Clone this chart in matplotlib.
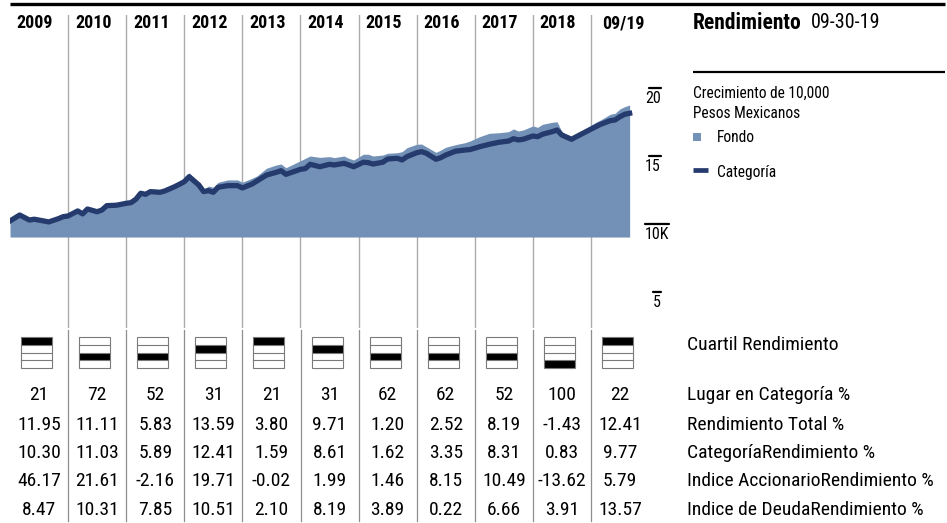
import matplotlib
matplotlib.use('Agg')
import matplotlib.pyplot as plt
from matplotlib.patches import Rectangle

plt.rcParams['font.family'] = ['Roboto Condensed', 'DejaVu Sans']
plt.rcParams['font.stretch'] = 'condensed'

# columnas (años)
anios = ['2009', '2010', '2011', '2012', '2013', '2014', '2015', '2016', '2017', '2018', '09/19']

# crecimiento de 10,000 (meses desde ene-2009)
meses = [0, 2, 4, 5, 7, 8, 10, 11, 12, 14, 15, 16, 18, 19, 20, 22, 24, 25, 26, 27,
         28, 29, 31, 32, 34, 35, 36, 37, 39, 40, 41, 42, 43, 45, 47, 48, 50, 51, 53, 55,
         56, 57, 60, 61, 62, 64, 66, 67, 69, 70, 71, 73, 74, 75, 77, 78, 80, 81, 82, 84,
         85, 86, 88, 89, 90, 92, 94, 95, 97, 99, 101, 103, 104, 105, 106, 108, 109, 110, 112, 113,
         114, 116, 117, 119, 121, 122, 124, 125, 126, 127, 128]
categoria = [10.22, 10.66, 10.29, 10.35, 10.22, 10.15, 10.39, 10.54, 10.59, 10.96,
             10.74, 11.10, 10.90, 11.03, 11.35, 11.38, 11.52, 11.57, 11.82, 12.26,
             12.18, 12.38, 12.33, 12.43, 12.74, 12.92, 13.11, 13.48, 12.87, 12.38,
             12.45, 12.33, 12.70, 12.82, 12.82, 12.65, 12.94, 13.16, 13.60, 13.80,
             13.92, 13.65, 14.02, 14.07, 14.39, 14.21, 14.39, 14.34, 14.46, 14.34,
             14.21, 14.54, 14.51, 14.41, 14.54, 14.78, 14.83, 14.71, 14.95, 15.24,
             15.32, 15.20, 14.76, 14.88, 15.07, 15.35, 15.44, 15.47, 15.68, 15.86,
             16.01, 16.10, 16.27, 16.18, 16.23, 16.47, 16.42, 16.60, 16.79, 16.91,
             16.54, 16.23, 16.42, 16.79, 17.15, 17.33, 17.60, 17.65, 17.89, 18.07,
             18.14]
fondo = [10.22, 10.66, 10.29, 10.35, 10.22, 10.15, 10.39, 10.54, 10.59, 10.96,
         10.74, 11.10, 10.90, 11.03, 11.35, 11.38, 11.52, 11.57, 11.82, 12.26,
         12.18, 12.38, 12.33, 12.43, 12.85, 13.09, 13.35, 13.77, 12.99, 12.55,
         12.79, 12.70, 13.07, 13.24, 13.24, 13.07, 13.36, 13.53, 14.10, 14.34,
         14.41, 14.14, 14.65, 14.83, 15.00, 14.90, 14.95, 14.88, 15.00, 14.83,
         14.71, 15.13, 15.13, 15.00, 15.07, 15.20, 15.24, 15.32, 15.61, 15.86,
         15.88, 15.68, 15.27, 15.44, 15.64, 15.83, 15.98, 16.10, 16.42, 16.67,
         16.71, 16.79, 16.99, 16.84, 16.91, 17.21, 17.11, 17.33, 17.48, 17.52,
         16.79, 16.30, 16.54, 17.04, 17.48, 17.65, 18.07, 18.14, 18.46, 18.63,
         18.75]
eje_valores = [20, 15, 10, 5]
eje_textos = ['20', '15', '10K', '5']

# tabla
cuartil = [1, 3, 3, 2, 1, 2, 3, 3, 3, 4, 1]
lugar = [21, 72, 52, 31, 21, 31, 62, 62, 52, 100, 22]
rend_total = [11.95, 11.11, 5.83, 13.59, 3.80, 9.71, 1.20, 2.52, 8.19, -1.43, 12.41]
rend_cat = [10.30, 11.03, 5.89, 12.41, 1.59, 8.61, 1.62, 3.35, 8.31, 0.83, 9.77]
rend_acc = [46.17, 21.61, -2.16, 19.71, -0.02, 1.99, 1.46, 8.15, 10.49, -13.62, 5.79]
rend_deuda = [8.47, 10.31, 7.85, 10.51, 2.10, 8.19, 3.89, 0.22, 6.66, 3.91, 13.57]
filas = ['Lugar en Categoría %', 'Rendimiento Total %', 'CategoríaRendimiento %',
         'Indice AccionarioRendimiento %', 'Indice de DeudaRendimiento %']

c_fondo = '#7391b6'
c_cat = '#253b6d'
c_sep = '#ababab'

W, H = 947, 523
fig = plt.figure(figsize=(W / 100, H / 100), dpi=100)

ov = fig.add_axes([0, 0, 1, 1])
ov.set_xlim(0, W)
ov.set_ylim(H, 0)
ov.axis('off')

x0, colw = 10, 58.1
xs_sep = [x0 + colw * (i + 1) for i in range(len(anios) - 1)]
centros = [x0 + colw * (i + 0.5) for i in range(len(anios))]

# cabecera
ov.plot([10, 945], [4, 4], color='black', lw=2.4, solid_capstyle='butt')
ov.plot([693, 945], [72, 72], color='black', lw=1.6, solid_capstyle='butt')
for c, a in zip(centros, anios):
    dx = 3 if '/' in a else -4
    ov.text(c + dx, 23, a, ha='center', va='center', fontsize=13, fontweight='bold')
ov.text(693, 23, 'Rendimiento', ha='left', va='center', fontsize=15.5, fontweight='bold')
ov.text(811, 23, '09-30-19', ha='left', va='center', fontsize=14.5)

# leyenda
ov.text(693, 93, 'Crecimiento de 10,000', ha='left', va='center', fontsize=11.2)
ov.text(693, 113, 'Pesos Mexicanos', ha='left', va='center', fontsize=11.2)
ov.add_patch(Rectangle((693, 133), 8, 8, color=c_fondo, lw=0))
ov.text(717, 137, 'Fondo', ha='left', va='center', fontsize=11.2)
ov.plot([693, 708], [170, 170], color=c_cat, lw=3.4, solid_capstyle='butt')
ov.text(717, 172, 'Categoría', ha='left', va='center', fontsize=11.2)

# grafico de crecimiento
ax = fig.add_axes([10 / W, 1 - 328 / H, 639 / W, 313 / H])
ax.patch.set_alpha(0)
ax.axis('off')
ax.set_xlim(2009, 2020)
ax.set_ylim(2.35, 25.37)
t = [2009 + m / 12 for m in meses]
for i in range(1, len(anios)):
    ax.axvline(2009 + i, color=c_sep, lw=1, zorder=1)
ax.fill_between(t, 9.04, fondo, color=c_fondo, lw=0, zorder=2)
ax.plot(t, categoria, color=c_cat, lw=3.8, solid_joinstyle='round', zorder=3)

xy_eje = (ov.transData, ax.transData)
for v, txt in zip(eje_valores, eje_textos):
    x_der = 669 if txt == '10K' else 661
    ancho = 24 if txt == '10K' else (8 if len(txt) == 1 else 12)
    ax.annotate('', xy=(x_der - ancho, v), xytext=(x_der, v), xycoords=xy_eje, textcoords=xy_eje,
                arrowprops=dict(arrowstyle='-', lw=1.6, color='black', shrinkA=0, shrinkB=0))
    ax.annotate(txt, xy=(x_der, v), xycoords=xy_eje, xytext=(0, -3), textcoords='offset pixels',
                ha='right', va='top', fontsize=11.5, annotation_clip=False)

# tabla
for x in xs_sep:
    ov.plot([x, x], [330, 521], color='#8f8f8f', lw=0.9)

bx_w, bx_h = 31, 31
for c, q in zip(centros, cuartil):
    bx = c - 2.5 - bx_w / 2
    by = 337
    rh = bx_h / 4
    ov.add_patch(Rectangle((bx, by + (q - 1) * rh), bx_w, rh, color='black', lw=0))
    ov.add_patch(Rectangle((bx, by), bx_w, bx_h, fill=False, ec='#7a7a7a', lw=0.8))
    for k in range(1, 4):
        ov.plot([bx, bx + bx_w], [by + k * rh] * 2, color='#7a7a7a', lw=0.8)
ov.text(687, 345, 'Cuartil Rendimiento', ha='left', va='center', fontsize=14)

ys_filas = [395, 425, 453, 481, 510]
valores = [[str(v) for v in lugar],
           [f'{v:.2f}' for v in rend_total],
           [f'{v:.2f}' for v in rend_cat],
           [f'{v:.2f}' for v in rend_acc],
           [f'{v:.2f}' for v in rend_deuda]]
for y, fila, nombre in zip(ys_filas, valores, filas):
    for c, s in zip(centros, fila):
        ov.text(c, y, s, ha='center', va='center', fontsize=14)
    ov.text(687, y, nombre, ha='left', va='center', fontsize=14)

fig.savefig('out.png', dpi=100)
